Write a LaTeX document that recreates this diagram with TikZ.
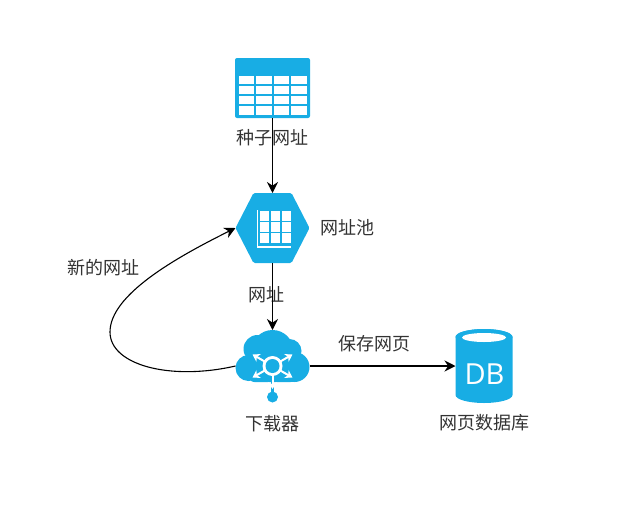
\documentclass[tikz,border=0pt]{standalone}
\usepackage{fontspec}
\setmainfont{Noto Sans CJK SC}
\newfontfamily\dbfont{Open Sans}
\usetikzlibrary{positioning}
\usetikzlibrary{arrows.meta}
\definecolor{iconblue}{HTML}{18ADE4}
\definecolor{labelgray}{HTML}{333333}

\begin{document}
\begin{tikzpicture}
		[x=1pt, y=-1pt,
		iconbox/.style={inner sep=0pt, outer sep=0pt},
		caption/.style={inner sep=0pt, text=labelgray, font=\fontsize{18}{20}\selectfont},
		link/.style={-{Stealth[length=11pt, width=11pt]}, line width=1.3pt, black}]
		\useasboundingbox (0,0) rectangle (629,525);

		\node[iconbox, minimum width=75pt, minimum height=60pt] (seed) at (272.5,88) {};
		\node[iconbox, minimum width=74pt, minimum height=70pt] (pool) at (272.5,228) {};
		\node[iconbox, minimum width=74pt, minimum height=72pt] (cloud) at (272.5,366) {};
		\node[iconbox, minimum width=57pt, minimum height=74pt] (db) at (484,366) {};

		% table
		\fill[iconblue, rounded corners=2pt] (seed.north west) rectangle (seed.south east);
		\begin{scope}[shift={(seed.north west)}]
			\foreach \col in {0,1,2,3}
				\foreach \row in {0,1,2,3}
					\fill[white] ({3.5+\col*17.5},{17.5+\row*10.2}) rectangle +(15.5,8.4);
		\end{scope}

		% hexagon
		\fill[iconblue, rounded corners=1.5pt] (pool.west) -- ([xshift=18pt]pool.north west)
			-- ([xshift=-18pt]pool.north east) -- (pool.east)
			-- ([xshift=-18pt]pool.south east) -- ([xshift=18pt]pool.south west) -- cycle;
		\begin{scope}[shift={(pool.center)}]
			\foreach \col in {0,1,2}
				\foreach \row in {0,1,2}
					\fill[white] ({-13+\col*11},{-17+\row*11}) rectangle +(9.7,9.7);
			\fill[white] (-15.5,-18) rectangle (-14.2,19.5);
			\fill[white] (-15.5,17.5) rectangle (18.5,19.5);
		\end{scope}

		% cloud
		\begin{scope}[shift={(cloud.center)}]
			\fill[iconblue] (-24,2) circle (13);
			\fill[iconblue] (-15,-17) circle (14);
			\fill[iconblue] (0,-15) circle (21);
			\fill[iconblue] (17,-15) circle (12);
			\fill[iconblue] (22,1) circle (15);
			\fill[iconblue, rounded corners=6pt] (-24,-8) rectangle (24,16);
			\draw[iconblue, line width=3.5pt] (0,12) -- (0,31);
			\fill[iconblue] (0,31) circle (5.5);
			\foreach \ang in {90,30,150,210,330}
				\draw[white, line width=2pt, -{Stealth[length=7pt, width=9pt]}] (\ang:8) -- (\ang:23);
			\draw[white, line width=2pt] (0,8) -- (0,14);
			\fill[white] (0,0) circle (10);
			\fill[iconblue] (0,0) circle (7);
		\end{scope}

		% cylinder
		\fill[iconblue] (db.north west) ++(0,8) arc[start angle=180, end angle=360, x radius=28.5, y radius=8]
			-- ([yshift=8pt]db.south east) arc[start angle=0, end angle=180, x radius=28.5, y radius=8] -- cycle;
		\fill[iconblue] ([yshift=-8pt]db.north) ellipse[x radius=28.5, y radius=8];
		\fill[white] ([yshift=-8.5pt]db.north) ellipse[x radius=22, y radius=4.5];
		\node[iconbox, text=white, font=\dbfont\fontsize{29}{29}\selectfont] (dbtext) at (484.5,374) {DB};

		\node[caption, below=11pt of seed] (seedname) {种子网址};
		\node[caption, right=11pt of pool] (poolname) {网址池};
		\node[caption, below=13pt of cloud] (cloudname) {下载器};
		\node[caption, below=11pt of db] (dbname) {网页数据库};
		\node[caption] (urlname) at (266,295) {网址};
		\node[caption] (newname) at (103,268) {新的网址};
		\node[caption] (savename) at (374,344) {保存网页};

		\draw[link] (seed) -- (pool);
		\draw[link] (pool) -- (cloud);
		\draw[link] (cloud) -- (db);
		\draw[link, line width=1.1pt] (cloud.west) .. controls (170,381) and (110,365) .. (110,332)
			.. controls (110,295) and (175,258) .. (pool.west);
\end{tikzpicture}
\end{document}
